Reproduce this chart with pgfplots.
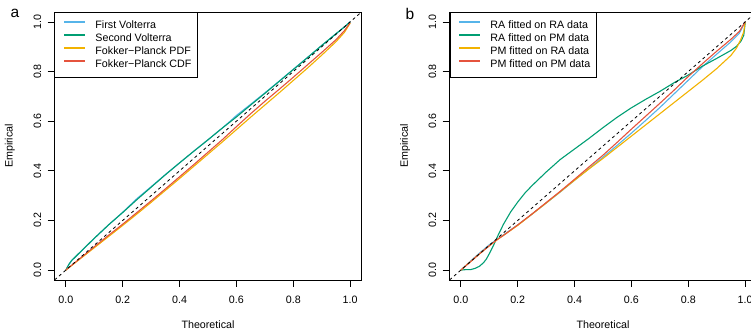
\documentclass[border=0pt]{standalone}
\usepackage{pgfplots}
\pgfplotsset{compat=1.18}
\usepackage{fontspec}
\setmainfont{Liberation Sans}
\definecolor{cblue}{HTML}{56B4E9}
\definecolor{cgreen}{HTML}{009E73}
\definecolor{corange}{HTML}{F2B200}
\definecolor{cred}{HTML}{E5533D}
\pgfplotsset{
  rstyle/.style={
    scale only axis, width=307pt, height=268pt,
    xmin=-0.04, xmax=1.04, ymin=-0.04, ymax=1.04,
    axis line style={line width=0.8pt},
    every tick/.style={black, line width=0.8pt},
    major tick length=7pt, tick align=outside,
    xtick pos=bottom, ytick pos=left,
    xtick={0,0.2,0.4,0.6,0.8,1}, xticklabels={0.0,0.2,0.4,0.6,0.8,1.0},
    ytick={0,0.2,0.4,0.6,0.8,1}, yticklabels={0.0,0.2,0.4,0.6,0.8,1.0},
    yticklabel style={rotate=90, anchor=south},
    xticklabel shift=5pt, yticklabel shift=2.5pt,
    /pgf/number format/assume math mode=true,
    xlabel={Theoretical}, ylabel={Empirical},
    x label style={at={(axis description cs:0.5,-0.168)}, anchor=center},
    y label style={at={(axis description cs:-0.145,0.5)}, anchor=center},
    legend cell align=left,
    legend style={at={(axis description cs:0,1)}, anchor=north west,
      draw=black, line width=0.8pt, inner xsep=6pt, inner ysep=8pt,
      row sep=3pt,
      nodes={inner sep=0pt, text height=8pt, text depth=2pt},
      /tikz/every odd column/.append style={column sep=9pt}},
    legend image code/.code={\path (0pt,0pt); \draw[##1, line width=2pt] (3pt,3.5pt) -- (24pt,3.5pt);},
    every axis plot/.append style={line width=1.1pt, line join=round},
  },
  diag/.style={black, line width=0.8pt, dash pattern=on 3pt off 3pt, forget plot},
}
\begin{document}
\fontsize{10.7}{12.8}\selectfont
\begin{tikzpicture}
\path[use as bounding box] (0pt,0pt) rectangle (751pt,334pt);
\begin{axis}[rstyle, at={(54.5pt,54pt)}, anchor=south west]
\addplot[cblue] coordinates {(0,0) (0.01,0.022) (0.02,0.038) (0.05,0.072) (0.1,0.128) (0.15,0.182) (0.2,0.233) (0.25,0.288) (0.3,0.336) (0.35,0.385) (0.4,0.432) (0.45,0.479) (0.5,0.525) (0.55,0.572) (0.58,0.602) (0.6,0.623) (0.65,0.668) (0.7,0.714) (0.75,0.761) (0.8,0.809) (0.85,0.857) (0.9,0.905) (0.95,0.952) (0.98,0.98) (1,1)};
\addplot[cgreen] coordinates {(0,0) (0.01,0.022) (0.02,0.038) (0.05,0.072) (0.1,0.128) (0.15,0.182) (0.2,0.232) (0.25,0.284) (0.3,0.334) (0.35,0.384) (0.4,0.432) (0.45,0.479) (0.5,0.525) (0.55,0.572) (0.6,0.617) (0.65,0.665) (0.7,0.712) (0.75,0.76) (0.8,0.808) (0.85,0.856) (0.9,0.905) (0.95,0.952) (0.98,0.98) (1,1)};
\addplot[corange] coordinates {(0,0) (0.01,0.009) (0.02,0.018) (0.05,0.045) (0.1,0.09) (0.15,0.135) (0.2,0.18) (0.25,0.226) (0.3,0.273) (0.35,0.321) (0.4,0.369) (0.45,0.418) (0.5,0.467) (0.55,0.516) (0.6,0.566) (0.65,0.616) (0.7,0.665) (0.75,0.714) (0.8,0.764) (0.85,0.814) (0.9,0.866) (0.95,0.92) (0.98,0.958) (1,0.995)};
\addplot[cred] coordinates {(0,0) (0.01,0.01) (0.02,0.019) (0.05,0.047) (0.1,0.094) (0.15,0.14) (0.2,0.185) (0.25,0.232) (0.3,0.279) (0.35,0.327) (0.4,0.376) (0.45,0.425) (0.5,0.475) (0.55,0.525) (0.6,0.578) (0.65,0.63) (0.7,0.68) (0.75,0.728) (0.8,0.777) (0.85,0.827) (0.9,0.877) (0.95,0.928) (0.98,0.965) (1,0.997)};
\addplot[diag] coordinates {(-0.04,-0.04) (1.04,1.04)};
\legend{First Volterra, Second Volterra, Fokker−Planck PDF, Fokker−Planck CDF}
\end{axis}
\begin{axis}[rstyle, at={(449.5pt,54pt)}, anchor=south west]
\addplot[cblue] coordinates {(0,0) (0.03,0.032) (0.06,0.063) (0.1,0.102) (0.13,0.126) (0.15,0.142) (0.2,0.182) (0.25,0.225) (0.3,0.27) (0.35,0.315) (0.4,0.362) (0.45,0.408) (0.5,0.455) (0.55,0.503) (0.6,0.552) (0.65,0.603) (0.7,0.655) (0.75,0.71) (0.8,0.765) (0.85,0.82) (0.9,0.87) (0.95,0.92) (0.98,0.955) (1,1)};
\addplot[cgreen] coordinates {(0,0) (0.02,0.002) (0.035,0.002) (0.05,0.007) (0.065,0.015) (0.08,0.03) (0.09,0.045) (0.1,0.066) (0.115,0.1) (0.13,0.138) (0.15,0.185) (0.175,0.234) (0.2,0.274) (0.225,0.31) (0.25,0.34) (0.3,0.395) (0.35,0.446) (0.4,0.488) (0.45,0.53) (0.5,0.574) (0.55,0.616) (0.6,0.654) (0.65,0.688) (0.7,0.72) (0.75,0.755) (0.8,0.786) (0.85,0.822) (0.9,0.853) (0.95,0.885) (0.97,0.902) (0.985,0.922) (0.995,0.945) (1,0.995)};
\addplot[corange] coordinates {(0,0) (0.03,0.03) (0.06,0.06) (0.1,0.098) (0.13,0.124) (0.15,0.14) (0.2,0.18) (0.25,0.225) (0.3,0.27) (0.35,0.316) (0.4,0.362) (0.45,0.407) (0.5,0.45) (0.55,0.495) (0.6,0.54) (0.65,0.585) (0.7,0.63) (0.75,0.675) (0.8,0.72) (0.85,0.765) (0.9,0.812) (0.95,0.865) (0.97,0.895) (0.985,0.93) (0.995,0.96) (1,1)};
\addplot[cred] coordinates {(0,0) (0.03,0.03) (0.06,0.06) (0.1,0.098) (0.13,0.125) (0.15,0.14) (0.2,0.182) (0.25,0.226) (0.3,0.272) (0.35,0.318) (0.4,0.366) (0.45,0.415) (0.5,0.463) (0.55,0.515) (0.6,0.568) (0.65,0.62) (0.7,0.672) (0.75,0.725) (0.8,0.78) (0.85,0.832) (0.9,0.882) (0.95,0.93) (0.98,0.962) (1,1)};
\addplot[diag] coordinates {(-0.04,-0.04) (1.04,1.04)};
\legend{RA fitted on RA data, RA fitted on PM data, PM fitted on RA data, PM fitted on PM data}
\end{axis}
\node[font=\fontsize{15.5}{18}\selectfont] at (15pt,320.7pt) {a};
\node[font=\fontsize{15.5}{18}\selectfont] at (410pt,320.2pt) {b};
\end{tikzpicture}
\end{document}
